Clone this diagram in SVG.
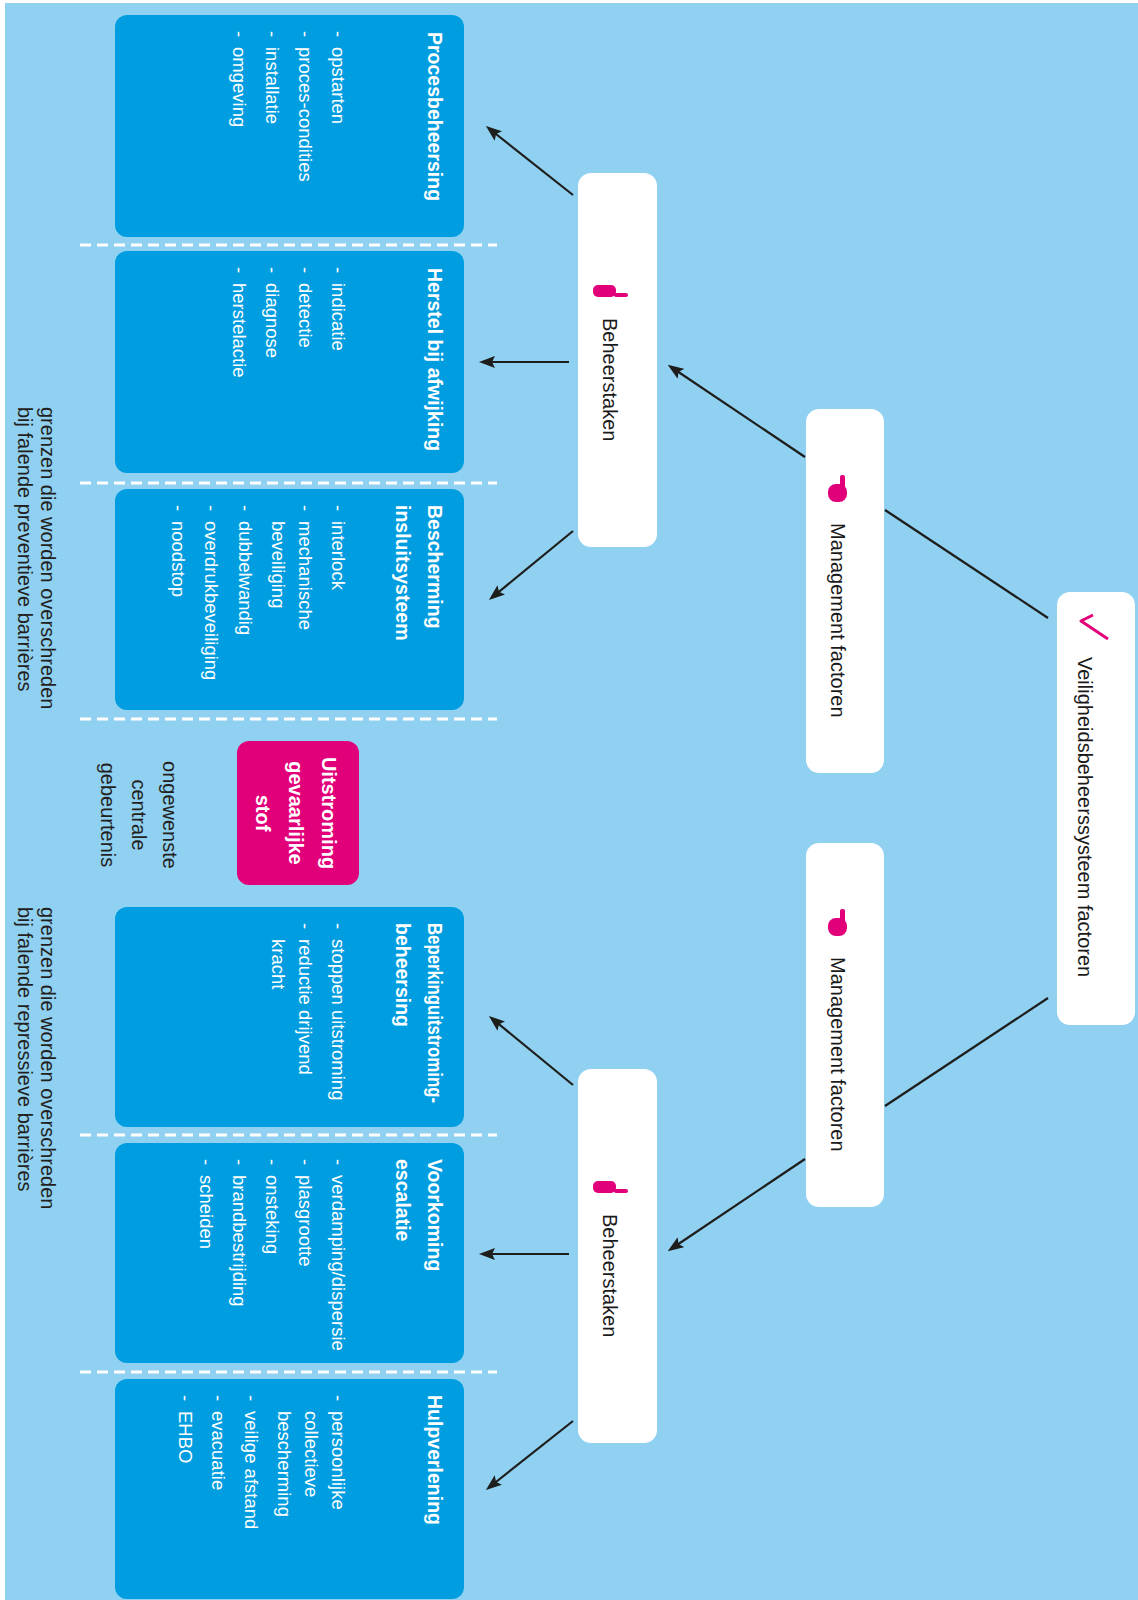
<svg xmlns="http://www.w3.org/2000/svg" width="1138" height="1600" viewBox="0 0 1138 1600">
<style>
.box{fill:#009EE0}
.wn{fill:#ffffff}
.pk{fill:#E2007A}
.t{font-family:"Liberation Sans",Arial,sans-serif;font-weight:bold;font-size:19.5px;fill:#ffffff}
.i{font-family:"Liberation Sans",Arial,sans-serif;font-size:18.5px;fill:#ffffff}
.n{font-family:"Liberation Sans",Arial,sans-serif;font-size:20px;fill:#1a1a1a}
.lab{font-family:"Liberation Sans",Arial,sans-serif;font-size:20px;fill:#231f20}
.pt{font-family:"Liberation Sans",Arial,sans-serif;font-weight:bold;font-size:20px;fill:#ffffff;text-anchor:middle}
.ic{fill:#E2007A}
.con{stroke:#1d1d1b;stroke-width:2.2;fill:none}
.arr{marker-end:url(#ah)}
.sep{stroke:#ffffff;stroke-width:3;stroke-dasharray:11 6}
</style>
<defs>
<marker id="ah" viewBox="0 0 16 12" refX="12" refY="6" markerWidth="16" markerHeight="12" markerUnits="userSpaceOnUse" orient="auto">
<path d="M0,0 L16,6 L0,12 L3,6 z" fill="#1d1d1b"/>
</marker>
</defs>
<rect width="1138" height="1600" fill="#ffffff"/>
<rect x="5" y="3" width="1133" height="1597" fill="#90D0F1"/>

<g id="separators">
<line class="sep" x1="80" y1="245" x2="497" y2="245"/>
<line class="sep" x1="80" y1="483" x2="497" y2="483"/>
<line class="sep" x1="80" y1="719" x2="497" y2="719"/>
<line class="sep" x1="80" y1="1135" x2="497" y2="1135"/>
<line class="sep" x1="80" y1="1372" x2="497" y2="1372"/>
</g>

<g id="connectors">
<line class="con arr" x1="573" y1="195" x2="489" y2="128.5"/>
<line class="con arr" x1="569" y1="362" x2="483" y2="362"/>
<line class="con arr" x1="573" y1="531" x2="492" y2="597.5"/>
<line class="con arr" x1="805" y1="457" x2="671" y2="367"/>
<line class="con" x1="1048" y1="618" x2="885" y2="510"/>
<line class="con" x1="1048" y1="998" x2="885" y2="1106"/>
<line class="con arr" x1="805" y1="1159" x2="671" y2="1249"/>
<line class="con arr" x1="573" y1="1085" x2="492" y2="1018.5"/>
<line class="con arr" x1="569" y1="1254" x2="483" y2="1254"/>
<line class="con arr" x1="573" y1="1421" x2="489" y2="1487.5"/>
</g>

<g transform="translate(1138 0) rotate(90)">

<g id="procesbeheersing">
<rect class="box" x="15" y="674" width="222" height="349" rx="12"/>
<text class="t" x="32" y="710">Procesbeheersing</text>
<text class="i" y="806"><tspan x="31">-</tspan><tspan x="47">opstarten</tspan></text>
<text class="i" y="839"><tspan x="31">-</tspan><tspan x="47">proces-condities</tspan></text>
<text class="i" y="872"><tspan x="31">-</tspan><tspan x="47">installatie</tspan></text>
<text class="i" y="905"><tspan x="31">-</tspan><tspan x="47">omgeving</tspan></text>
</g>

<g id="herstel">
<rect class="box" x="251" y="674" width="222" height="349" rx="12"/>
<text class="t" x="268" y="710">Herstel bij afwijking</text>
<text class="i" y="806"><tspan x="267">-</tspan><tspan x="283">indicatie</tspan></text>
<text class="i" y="839"><tspan x="267">-</tspan><tspan x="283">detectie</tspan></text>
<text class="i" y="872"><tspan x="267">-</tspan><tspan x="283">diagnose</tspan></text>
<text class="i" y="905"><tspan x="267">-</tspan><tspan x="283">herstelactie</tspan></text>
</g>

<g id="bescherming">
<rect class="box" x="489" y="674" width="221" height="349" rx="12"/>
<text class="t" x="505" y="710">Bescherming</text>
<text class="t" x="505" y="742">insluitsysteem</text>
<text class="i" y="806"><tspan x="505">-</tspan><tspan x="521">interlock</tspan></text>
<text class="i" y="839"><tspan x="505">-</tspan><tspan x="521">mechanische</tspan></text>
<text class="i" x="521" y="866">beveiliging</text>
<text class="i" y="899"><tspan x="505">-</tspan><tspan x="521">dubbelwandig</tspan></text>
<text class="i" y="933"><tspan x="505">-</tspan><tspan x="521">overdrukbeveiliging</tspan></text>
<text class="i" y="966"><tspan x="505">-</tspan><tspan x="521">noodstop</tspan></text>
</g>

<g id="uitstroming">
<rect class="pk" x="741" y="779" width="144" height="122" rx="12"/>
<text class="pt" x="813" y="816">Uitstroming</text>
<text class="pt" x="813" y="849">gevaarlijke</text>
<text class="pt" x="813" y="882">stof</text>
</g>

<g id="centrale-label">
<text class="lab" text-anchor="middle" x="815" y="975">ongewenste</text>
<text class="lab" text-anchor="middle" x="815" y="1006">centrale</text>
<text class="lab" text-anchor="middle" x="815" y="1037">gebeurtenis</text>
</g>

<g id="grenzen-preventief">
<text class="lab" x="407" y="1097">grenzen die worden overschreden</text>
<text class="lab" x="407" y="1120">bij falende preventieve barrières</text>
</g>

<g id="grenzen-repressief">
<text class="lab" x="907" y="1097">grenzen die worden overschreden</text>
<text class="lab" x="907" y="1120">bij falende repressieve barrières</text>
</g>

<g id="beperking">
<rect class="box" x="907" y="674" width="220" height="349" rx="12"/>
<text class="t" x="923" y="710" textLength="180" lengthAdjust="spacingAndGlyphs">Beperkinguitstroming-</text>
<text class="t" x="923" y="742">beheersing</text>
<text class="i" y="806"><tspan x="923">-</tspan><tspan x="939">stoppen uitstroming</tspan></text>
<text class="i" y="839"><tspan x="923">-</tspan><tspan x="939">reductie drijvend</tspan></text>
<text class="i" x="939" y="866">kracht</text>
</g>

<g id="voorkoming">
<rect class="box" x="1143" y="674" width="220" height="349" rx="12"/>
<text class="t" x="1159" y="710">Voorkoming</text>
<text class="t" x="1159" y="742">escalatie</text>
<text class="i" y="806"><tspan x="1159">-</tspan><tspan x="1175">verdamping/dispersie</tspan></text>
<text class="i" y="839"><tspan x="1159">-</tspan><tspan x="1175">plasgrootte</tspan></text>
<text class="i" y="872"><tspan x="1159">-</tspan><tspan x="1175">onsteking</tspan></text>
<text class="i" y="905"><tspan x="1159">-</tspan><tspan x="1175">brandbestrijding</tspan></text>
<text class="i" y="938"><tspan x="1159">-</tspan><tspan x="1175">scheiden</tspan></text>
</g>

<g id="hulpverlening">
<rect class="box" x="1379" y="674" width="220" height="349" rx="12"/>
<text class="t" x="1395" y="710">Hulpverlening</text>
<text class="i" y="806"><tspan x="1395">-</tspan><tspan x="1411">persoonlijke</tspan></text>
<text class="i" x="1411" y="833">collectieve</text>
<text class="i" x="1411" y="860">bescherming</text>
<text class="i" y="893"><tspan x="1395">-</tspan><tspan x="1411">veilige afstand</tspan></text>
<text class="i" y="926"><tspan x="1395">-</tspan><tspan x="1411">evacuatie</tspan></text>
<text class="i" y="959"><tspan x="1395">-</tspan><tspan x="1411">EHBO</tspan></text>
</g>

<g id="beheerstaken-1">
<rect class="wn" x="173" y="481" width="374" height="79" rx="13"/>
<rect class="ic" x="285" y="522" width="12" height="23" rx="5"/>
<rect class="ic" x="293" y="510" width="4" height="14" rx="2"/>
<text class="n" x="318" y="535">Beheerstaken</text>
</g>

<g id="beheerstaken-2">
<rect class="wn" x="1069" y="481" width="374" height="79" rx="13"/>
<rect class="ic" x="1181" y="522" width="12" height="23" rx="5"/>
<rect class="ic" x="1189" y="510" width="4" height="14" rx="2"/>
<text class="n" x="1214" y="535">Beheerstaken</text>
</g>

<g id="management-1">
<rect class="wn" x="409" y="254" width="364" height="78" rx="13"/>
<rect class="ic" x="484" y="291" width="18" height="19" rx="8"/>
<rect class="ic" x="475" y="293" width="13" height="5" rx="2"/>
<text class="n" x="523" y="307">Management factoren</text>
</g>

<g id="management-2">
<rect class="wn" x="843" y="254" width="364" height="78" rx="13"/>
<rect class="ic" x="918" y="291" width="18" height="19" rx="8"/>
<rect class="ic" x="909" y="293" width="13" height="5" rx="2"/>
<text class="n" x="957" y="307">Management factoren</text>
</g>

<g id="veiligheid">
<rect class="wn" x="592" y="3" width="433" height="78" rx="13"/>
<path d="M615 45 L621 57 L639 30" stroke="#E2007A" stroke-width="3" fill="none" stroke-linejoin="round"/>
<text class="n" x="657" y="60">Veiligheidsbeheerssysteem factoren</text>
</g>

</g>
</svg>
